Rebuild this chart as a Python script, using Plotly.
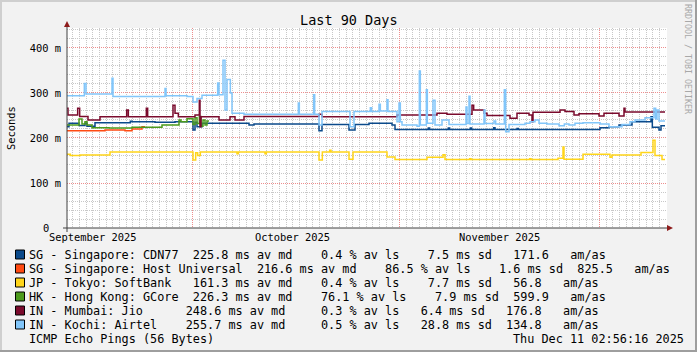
import plotly.graph_objects as go
import pandas as pd

START = pd.Timestamp("2025-09-12 02:56:16")
END = pd.Timestamp("2025-12-11 02:56:16")

# ---- data: day offsets from START and median RTT in ms ----
cdn77_days = [0, 0.3, 1.8, 2.7, 3.0, 4.2, 9.5, 9.75, 13.2, 16.2, 18.9, 19.2, 19.5, 20.25, 27.3, 28.05,
              37.8, 38.25, 42.3, 43.2, 45.3, 48.75, 49.2, 54.2, 54.4, 57.2, 57.4, 60.5, 60.7, 64.0, 64.2,
              67.5, 67.7, 79.95, 81.3, 82.8, 84.75, 87.6, 87.8, 88.8, 89.1, 89.7]
cdn77_ms = [225, 233, 228, 233, 226, 234, 237, 236, 235, 236, 218, 235, 225, 233, 229, 231,
            216, 230, 218, 230, 233, 229, 219, 222, 219, 222, 219, 222, 219, 223, 219,
            221, 219, 223, 225, 229, 236, 247, 224, 218, 227, 227]

hostuni_days = [0, 5.7, 8.7, 9.75, 11.25, 11.7]
hostuni_ms = [216, 218, 216, 220, 225, 225]

softbank_days = [0, 0.5, 2.0, 6.45, 18.9, 19.3, 19.6, 20.0, 25.5, 25.7, 29.7, 29.9, 37.8, 38.3, 39.4, 39.6,
                 42.3, 42.9, 48.0, 49.2, 54.0, 56.4, 56.7, 60.4, 60.6, 69.4, 69.6, 73.65, 74.4, 74.55,
                 77.4, 81.45, 81.75, 86.1, 87.9, 88.2, 89.25, 89.7]
softbank_ms = [164, 161, 162, 169, 151, 167, 161, 169, 165, 169, 165, 169, 151, 169, 173, 169,
               153, 169, 158, 152, 157, 163, 152, 154, 152, 154, 152, 155, 180, 153,
               164, 157, 162, 168, 195, 161, 152, 152]

gcore_days = [0, 1.8, 2.25, 2.7, 3.0, 3.75, 6.3, 9.75, 14.25, 16.8, 17.1, 18.0, 18.9, 19.2, 19.5,
              19.85, 20.1, 20.4, 20.7, 21.0, 21.3]
gcore_ms = [229, 242, 231, 236, 229, 223, 222, 224, 229, 240, 236, 243, 230, 245, 232,
            248, 226, 240, 229, 238, 238]

jio_days = [0, 0.15, 1.6, 1.9, 3.15, 4.95, 8.95, 9.2, 11.9, 12.1, 15.9, 16.2, 16.7, 19.2, 19.85, 19.95,
            20.1, 22.8, 24.45, 25.2, 26.55, 37.8, 38.25, 49.5, 55.5, 57.0, 60.75, 61.0, 62.55, 63.0,
            66.45, 67.5, 69.3, 69.75, 69.9, 73.95, 74.7, 76.05, 76.8, 79.8, 80.55, 82.8, 83.55, 83.7, 89.7]
jio_ms = [266, 251, 266, 248, 240, 247, 262, 247, 266, 247, 273, 255, 247, 251, 284, 225,
          247, 240, 247, 240, 248, 253, 247, 251, 255, 253, 273, 262, 255, 250,
          244, 255, 251, 236, 257, 262, 259, 251, 254, 249, 255, 249, 266, 258, 258]

airtel_days = [0, 2.6, 2.85, 6.75, 6.9, 14.7, 14.85, 18.0, 18.9, 19.5, 20.25, 22.6, 22.8, 23.4, 23.7,
               24.0, 24.5, 24.75, 26.55, 34.7, 34.85, 37.0, 37.15, 37.8, 38.25, 42.45, 43.05, 45.5,
               45.7, 46.8, 47.0, 48.0, 48.15, 49.5, 49.8, 50.0, 50.25, 52.5, 52.85, 53.0, 53.9, 54.05,
               54.9, 55.2, 56.25, 57.3, 59.85, 60.0, 60.3, 60.45, 62.55, 62.7, 64.05, 64.3, 65.6, 65.8,
               66.3, 68.7, 69.45, 70.2, 70.8, 72.0, 73.8, 74.6, 75.3, 76.2, 77.4, 79.95, 81.3, 83.25,
               84.45, 85.2, 86.7, 88.05, 88.3, 88.5, 88.8, 89.7]
airtel_ms = [294, 321, 298, 333, 292, 310, 294, 292, 280, 288, 295, 322, 296, 373, 262,
             330, 300, 255, 253, 278, 253, 296, 253, 229, 259, 225, 259, 267,
             259, 275, 260, 285, 259, 236, 278, 236, 229, 226, 349, 229, 307, 233,
             284, 229, 240, 230, 269, 232, 293, 231, 262, 232, 238, 231, 307, 214,
             230, 233, 236, 240, 233, 231, 227, 231, 229, 233, 234, 231, 225, 230,
             236, 240, 245, 266, 242, 262, 238, 238]

series_names = ["SG - Singapore: CDN77", "SG - Singapore: Host Universal", "JP - Tokyo: SoftBank",
                "HK - Hong Kong: GCore", "IN - Mumbai: Jio", "IN - Kochi: Airtel"]
series_colors = ["#0B4A8B", "#FF4A12", "#FFD51A", "#4C9A1C", "#7A0A2C", "#82C6FA"]
series_days = [cdn77_days, hostuni_days, softbank_days, gcore_days, jio_days, airtel_days]
series_ms = [cdn77_ms, hostuni_ms, softbank_ms, gcore_ms, jio_ms, airtel_ms]

legend_rows = [
    "SG - Singapore: CDN77  225.8 ms av md    0.4 % av ls    7.5 ms sd   171.6   am/as",
    "SG - Singapore: Host Universal  216.6 ms av md    86.5 % av ls    1.6 ms sd  825.5   am/as",
    "JP - Tokyo: SoftBank   161.3 ms av md    0.4 % av ls    7.7 ms sd   56.8   am/as",
    "HK - Hong Kong: GCore  226.3 ms av md    76.1 % av ls    7.9 ms sd  599.9   am/as",
    "IN - Mumbai: Jio      248.6 ms av md     0.3 % av ls   6.4 ms sd   176.8   am/as",
    "IN - Kochi: Airtel    255.7 ms av md     0.5 % av ls   28.8 ms sd  134.8   am/as",
]

y_tickvals = [0, 100, 200, 300, 400]
y_ticktext = ["", "100 m", "200 m", "300 m", "400 m"]
y_zero_label = "0"
month_lines = ["2025-10-01", "2025-11-01", "2025-12-01"]
month_label_pos = ["2025-09-16", "2025-10-16", "2025-11-16"]
month_labels = ["September 2025", "October 2025", "November 2025"]

FONT = "DejaVu Sans Mono"
NB = "\u00a0"

day_grid = [d for d in pd.date_range("2025-09-01", "2025-12-12", freq="D")
            if d.strftime("%Y-%m-%d") not in month_lines]
ms_grid = [v for v in range(0, 460, 20) if v % 100 != 0]

fig = go.Figure()
for name, color, d, v in zip(series_names, series_colors, series_days, series_ms):
    x = [START + pd.Timedelta(days=k) for k in d]
    fig.add_trace(go.Scatter(x=x, y=v, mode="lines", name=name,
                             line=dict(color=color, width=1.5, shape="hv"),
                             showlegend=False, hoverinfo="skip"))

L, T, W, H = 67, 28, 600, 200


def px(xp):
    return (xp - L) / W


def py(yp):
    return (T + H - yp) / H


shapes = []
shapes.append(dict(type="line", xref="paper", yref="paper", x0=px(0), x1=px(697), y0=py(1), y1=py(1),
                   line=dict(color="#CFCFCF", width=2)))
shapes.append(dict(type="line", xref="paper", yref="paper", x0=px(1), x1=px(1), y0=py(0), y1=py(352),
                   line=dict(color="#CFCFCF", width=2)))
shapes.append(dict(type="line", xref="paper", yref="paper", x0=px(0), x1=px(697), y0=py(351), y1=py(351),
                   line=dict(color="#9E9E9E", width=2)))
shapes.append(dict(type="line", xref="paper", yref="paper", x0=px(696), x1=px(696), y0=py(0), y1=py(352),
                   line=dict(color="#9E9E9E", width=2)))
shapes.append(dict(type="line", xref="paper", yref="paper", x0=px(63), x1=px(669), y0=0, y1=0,
                   line=dict(color="#404040", width=1)))
shapes.append(dict(type="line", xref="paper", yref="paper", x0=0, x1=0, y0=py(232), y1=py(25),
                   line=dict(color="#404040", width=1)))
shapes.append(dict(type="path", xref="paper", yref="paper",
                   path=f"M {px(64)},{py(27)} L {px(70)},{py(27)} L {px(67)},{py(21)} Z",
                   fillcolor="#8E1B1B", line=dict(width=0)))
shapes.append(dict(type="path", xref="paper", yref="paper",
                   path=f"M {px(667)},{py(225)} L {px(667)},{py(231)} L {px(673)},{py(228)} Z",
                   fillcolor="#8E1B1B", line=dict(width=0)))
for i, c in enumerate(series_colors):
    cy = 254.5 + 14 * i
    shapes.append(dict(type="rect", xref="paper", yref="paper", x0=px(15.5), x1=px(24.5),
                       y0=py(cy + 4.5), y1=py(cy - 4.5), fillcolor=c,
                       line=dict(color="#000000", width=1)))

annotations = []
annotations.append(dict(text="Last 90 Days", xref="paper", yref="paper", x=px(348.5), y=py(20),
                        xanchor="center", yanchor="middle", showarrow=False,
                        font=dict(family=FONT, size=13.5, color="#000")))
annotations.append(dict(text="Seconds", xref="paper", yref="paper", x=px(11), y=py(128),
                        xanchor="center", yanchor="middle", textangle=-90, showarrow=False,
                        font=dict(family=FONT, size=10.4, color="#000")))
annotations.append(dict(text="RRDTOOL / TOBI OETIKER", xref="paper", yref="paper", x=px(688), y=py(59),
                        xanchor="center", yanchor="middle", textangle=90, showarrow=False,
                        font=dict(family=FONT, size=8.3, color="#A8A8A8")))
annotations.append(dict(text=y_zero_label, xref="paper", yref="y", x=px(48.5), y=0,
                        xanchor="right", yanchor="middle", showarrow=False, borderpad=0, borderwidth=0,
                        font=dict(family=FONT, size=10.4, color="#000")))
for pos, lab in zip(month_label_pos, month_labels):
    annotations.append(dict(text=lab, xref="x", yref="paper", x=pos, y=py(237),
                            xanchor="center", yanchor="middle", showarrow=False,
                            font=dict(family=FONT, size=10.4, color="#000")))
for i, row in enumerate(legend_rows):
    annotations.append(dict(text=row.replace(" ", NB), xref="paper", yref="paper", x=px(29.2),
                            y=py(254.5 + 14 * i), xanchor="left", yanchor="middle", showarrow=False,
                            borderpad=0, borderwidth=0,
                            font=dict(family=FONT, size=11.83, color="#000")))
annotations.append(dict(text="ICMP Echo Pings (56 Bytes)".replace(" ", NB), xref="paper", yref="paper",
                        x=px(29.2), y=py(338.5), xanchor="left", yanchor="middle", showarrow=False,
                        borderpad=0, borderwidth=0, font=dict(family=FONT, size=11.83, color="#000")))
annotations.append(dict(text="Thu Dec 11 02:56:16 2025".replace(" ", NB), xref="paper", yref="paper",
                        x=px(513), y=py(338.5), xanchor="left", yanchor="middle", showarrow=False,
                        borderpad=0, borderwidth=0, font=dict(family=FONT, size=11.83, color="#000")))

fig.update_layout(
    width=697, height=352, autosize=False,
    margin=dict(l=L, r=697 - L - W, t=T, b=352 - T - H, pad=0),
    paper_bgcolor="#F2F2F2", plot_bgcolor="#FFFFFF",
    font=dict(family=FONT, size=10.4, color="#000"),
    shapes=shapes, annotations=annotations,
    xaxis=dict(type="date", range=[START, END], tickmode="array", tickvals=month_lines,
               showticklabels=False, ticks="", showline=False, zeroline=False,
               showgrid=True, gridcolor="#EE8E8E", gridwidth=1, griddash="1px,1px",
               minor=dict(tickmode="array", tickvals=day_grid, showgrid=True, gridcolor="#C8C8C8",
                          gridwidth=1, griddash="1px,1px", ticks="")),
    yaxis=dict(range=[0, 444.4], tickmode="array", tickvals=y_tickvals,
               ticktext=[t.replace(" ", NB) for t in y_ticktext], ticks="", showline=False, zeroline=False,
               showgrid=True, gridcolor="#EE8E8E", gridwidth=1, griddash="1px,1px",
               ticklabelstandoff=5,
               tickfont=dict(family=FONT, size=10.4, color="#000"),
               minor=dict(tickmode="array", tickvals=ms_grid, showgrid=True, gridcolor="#C8C8C8",
                          gridwidth=1, griddash="1px,1px", ticks="")),
)

fig.write_html("out.html")
